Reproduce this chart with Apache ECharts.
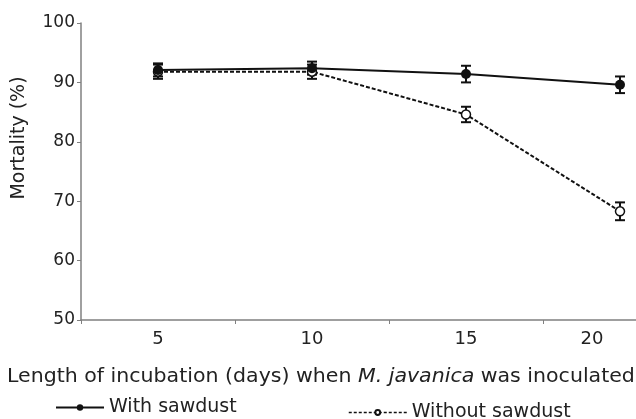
<!DOCTYPE html>
<html>
<head>
<meta charset="utf-8">
<script src="https://cdn.jsdelivr.net/npm/echarts@6/dist/echarts.min.js"></script>
<style>
  html, body { margin: 0; padding: 0; background: #fff; }
  #chart { width: 636px; height: 419px; }
</style>
</head>
<body>
<div id="chart"></div>
<script>
// incubation days
const days = ['5', '10', '15', '20'];
// mortality (%)
const withSawdust = [92.1, 92.4, 91.4, 89.6];
const withErr = [1.1, 1.1, 1.4, 1.4];
const withoutSawdust = [91.8, 91.8, 84.6, 68.3];
const withoutErr = [1.2, 1.2, 1.3, 1.5];

const FONT = 'DejaVu Sans';
const TEXT = '#222';
const AXIS = '#808080';

const chart = echarts.init(document.getElementById('chart'));

// error bar data: [index, low, high]
const errData = (vals, errs) => vals.map((v, i) => [i, v - errs[i], v + errs[i]]);

const renderErr = (params, api) => {
  const lo = api.coord([api.value(0), api.value(1)]);
  const hi = api.coord([api.value(0), api.value(2)]);
  const w = 5;
  const style = { stroke: '#111', lineWidth: 2 };
  return {
    type: 'group',
    children: [
      { type: 'line', shape: { x1: lo[0], y1: lo[1], x2: hi[0], y2: hi[1] }, style },
      { type: 'line', shape: { x1: hi[0] - w, y1: hi[1], x2: hi[0] + w, y2: hi[1] }, style },
      { type: 'line', shape: { x1: lo[0] - w, y1: lo[1], x2: lo[0] + w, y2: lo[1] }, style },
    ],
  };
};

chart.setOption({
  animation: false,
  backgroundColor: '#fff',
  textStyle: { fontFamily: FONT, color: TEXT },
  // plot area runs past the right edge, as in the cropped original
  grid: { left: 81, top: 23, width: 616, bottom: 99, containLabel: false, outerBoundsMode: 'none' },
  xAxis: {
    type: 'category',
    data: days.map((d, i) => i === days.length - 1
      ? { value: d, textStyle: { padding: [0, 56, 0, 0] } }
      : d),
    boundaryGap: true,
    axisLine: { lineStyle: { color: AXIS, width: 1.5 } },
    axisTick: { show: true, length: 4, lineStyle: { color: AXIS } },
    axisLabel: { color: TEXT, fontSize: 18, fontFamily: FONT, margin: 10 },
  },
  yAxis: {
    type: 'value',
    min: 50,
    max: 100,
    interval: 10,
    axisLine: { show: true, lineStyle: { color: AXIS, width: 1.5 } },
    axisTick: { show: true, length: 4, lineStyle: { color: AXIS } },
    splitLine: { show: false },
    axisLabel: { color: TEXT, fontSize: 17, fontFamily: FONT, margin: 6 },
  },
  legend: [
    {
      data: ['With sawdust'],
      left: 55, top: 398, padding: 0,
      itemWidth: 48, itemHeight: 8,
      lineStyle: { width: 2 },
      textStyle: { fontSize: 19, fontFamily: FONT, color: TEXT },
    },
    {
      data: ['Without sawdust'],
      left: 348, top: 403, padding: 0,
      itemWidth: 58, itemHeight: 6,
      lineStyle: { width: 1.5, type: [3, 2] },
      textStyle: { fontSize: 19, fontFamily: FONT, color: TEXT },
    },
  ],
  graphic: [
    {
      type: 'text',
      x: 7, y: 377,
      scaleX: 1.08,
      style: {
        text: '{a|Length of incubation (days) when }{i|M. javanica}{a| was inoculated}',
        verticalAlign: 'middle',
        rich: {
          a: { fontSize: 19, fontFamily: FONT, fill: TEXT },
          i: { fontSize: 19, fontFamily: FONT, fill: TEXT, fontStyle: 'italic' },
        },
      },
    },
    {
      type: 'text',
      x: 19, y: 138,
      rotation: Math.PI / 2,
      style: {
        text: 'Mortality (%)',
        fontSize: 19, fontFamily: FONT, fill: TEXT,
        align: 'center', verticalAlign: 'middle',
      },
    },
  ],
  series: [
    {
      name: 'With sawdust',
      type: 'line',
      data: withSawdust,
      symbol: 'circle',
      symbolSize: 10,
      itemStyle: { color: '#111' },
      lineStyle: { color: '#111', width: 2 },
      z: 4,
    },
    {
      name: 'Without sawdust',
      type: 'line',
      data: withoutSawdust,
      symbol: 'circle',
      symbolSize: 9,
      itemStyle: { color: '#fff', borderColor: '#111', borderWidth: 1.5 },
      lineStyle: { color: '#111', width: 2, type: [4, 2] },
      z: 3,
    },
    {
      type: 'custom',
      renderItem: renderErr,
      data: errData(withSawdust, withErr),
      encode: { x: 0, y: [1, 2] },
      z: 2,
      silent: true,
    },
    {
      type: 'custom',
      renderItem: renderErr,
      data: errData(withoutSawdust, withoutErr),
      encode: { x: 0, y: [1, 2] },
      z: 2,
      silent: true,
    },
  ],
});
</script>
</body>
</html>
